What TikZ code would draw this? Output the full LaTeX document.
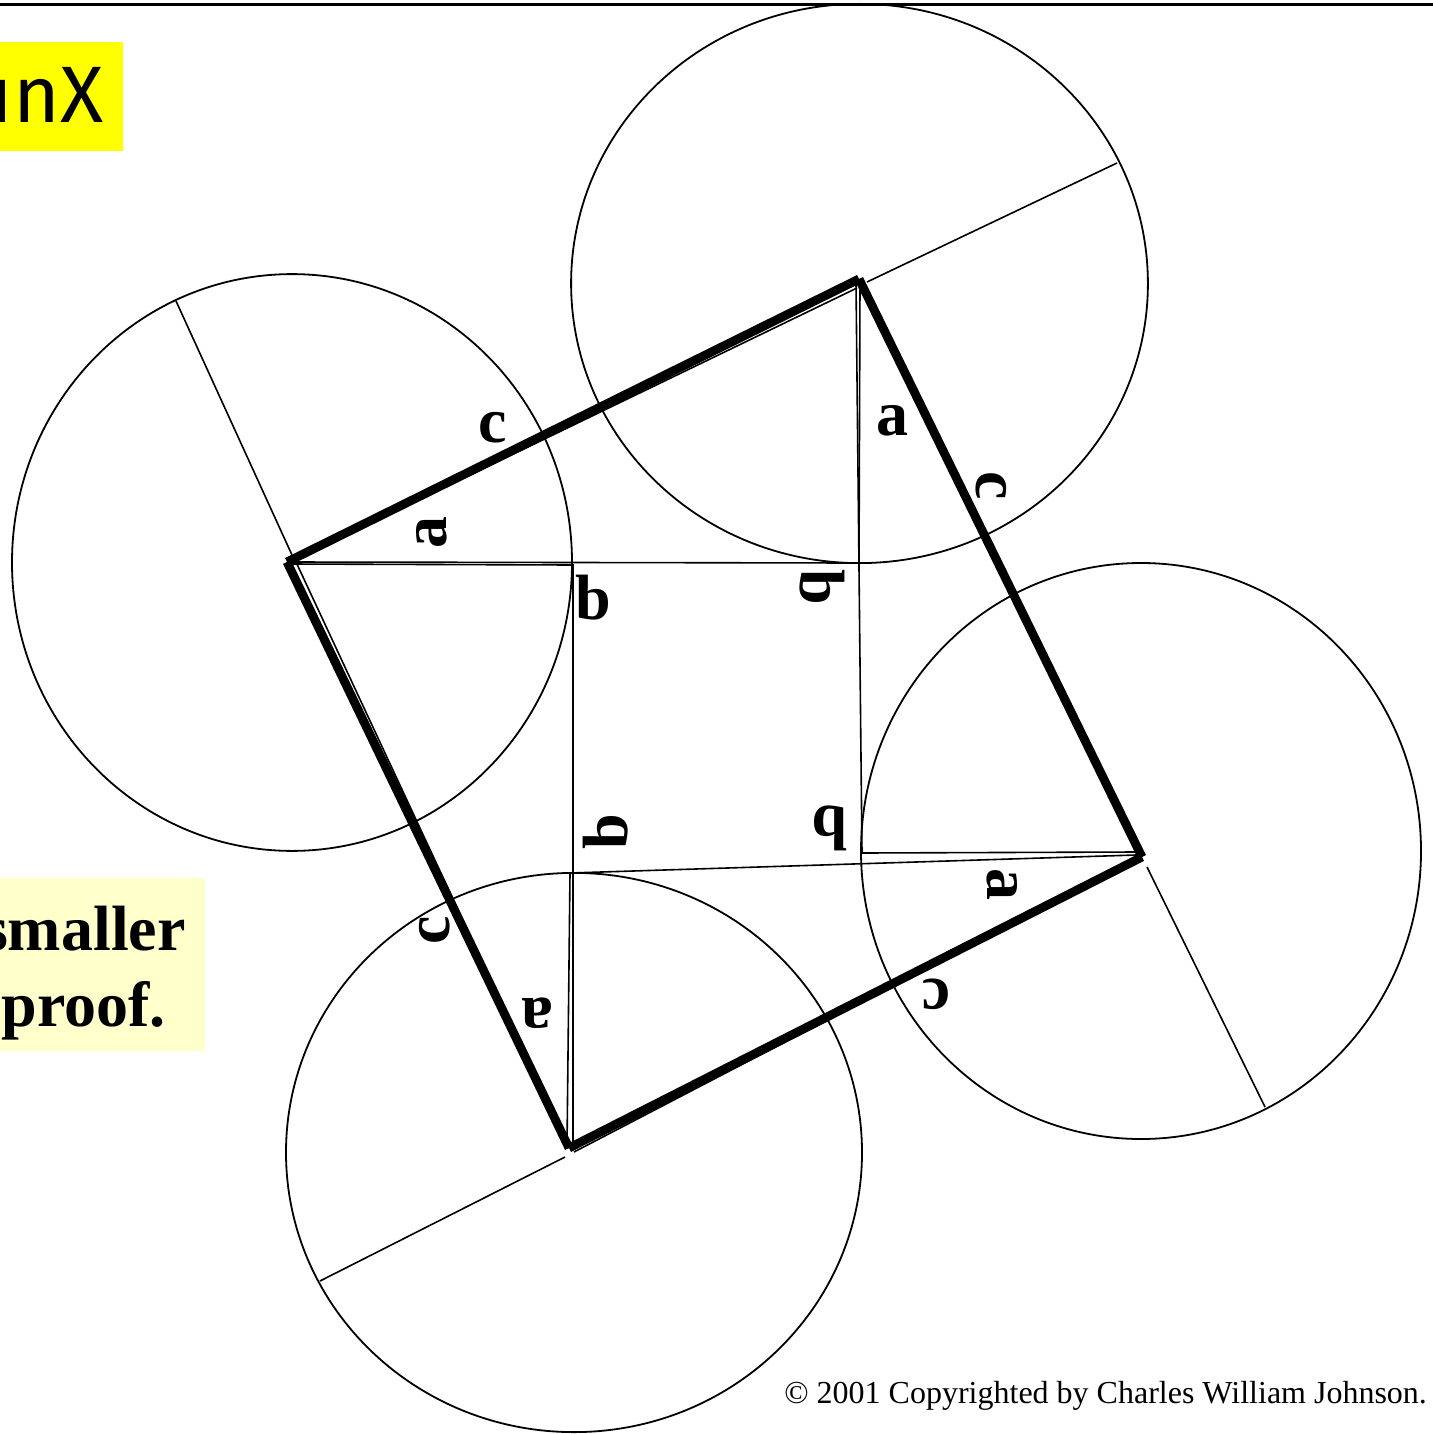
\documentclass[tikz,border=0pt]{standalone}
\usepackage{fontspec}
\setmainfont{Liberation Serif}
\newfontfamily\handfont{Fira Sans}
\definecolor{hiyellow}{HTML}{FFFF00}
\definecolor{paleyellow}{HTML}{FFFFCC}
\begin{document}
\begin{tikzpicture}[x=0.5pt,y=-0.5pt,
  thinline/.style={line width=0.8pt},
  thickside/.style={line width=4.4pt,line cap=butt},
  ring/.style={line width=0.9pt},
  lbl/.style={font=\fontsize{32}{32}\selectfont\bfseries,inner sep=0pt}]
\useasboundingbox (0,0) rectangle (1433,1434);
\clip (0,0) rectangle (1433,1434);
% boxes
\fill[hiyellow] (0,42) rectangle (123,151);
\fill[paleyellow] (0,878) rectangle (205,1051);
\node[font=\handfont\fontsize{40}{40}\selectfont,inner sep=0pt,anchor=base east] (logo) at (104,123) {unX};
\node[font=\fontsize{32}{32}\selectfont\bfseries,inner sep=0pt,anchor=base east] (sm) at (186,950) {smaller};
\node[font=\fontsize{32}{32}\selectfont\bfseries,inner sep=0pt,anchor=base east] (pr) at (166,1026) {proof.};
% top rule
\coordinate (TL) at (0,4.7);
\coordinate (TR) at (1433,4.7);
\draw[line width=1.3pt] (TL) -- (TR);
% circles
\draw[ring] (292,562.5) ellipse [x radius=140pt,y radius=144.2pt];
\draw[ring] (859.5,283.5) ellipse [x radius=144.2pt,y radius=139.8pt];
\draw[ring] (1141,851) ellipse [x radius=140pt,y radius=144pt];
\draw[ring] (574,1152.5) ellipse [x radius=144pt,y radius=139.8pt];
% corner points
\coordinate (P1) at (287,562);
\coordinate (P2) at (859,279);
\coordinate (P3) at (1142,857);
\coordinate (P4) at (569,1148);
\coordinate (R1) at (859,563);
\coordinate (R2) at (862,853);
\coordinate (R3) at (570,873);
\coordinate (R4) at (573,565);
% radius extensions
\coordinate (E1a) at (292,555); \coordinate (E1b) at (176,301);
\coordinate (E2a) at (867,282); \coordinate (E2b) at (1117,163);
\coordinate (E3a) at (1147,867); \coordinate (E3b) at (1265,1107);
\coordinate (E4a) at (565,1157); \coordinate (E4b) at (320,1281);
\draw[thinline] (E1a) -- (E1b);
\draw[thinline] (E2a) -- (E2b);
\draw[thinline] (E3a) -- (E3b);
\draw[thinline] (E4a) -- (E4b);
% triangle 1
\coordinate (A1) at (290,562); \coordinate (A2) at (860,283); \coordinate (A3) at (857,288);
\draw[thinline] (A1) -- (R1) -- (A2);
\draw[thinline] (A1) -- (A3);
% triangle 2
\coordinate (B1) at (856,283); \coordinate (B2) at (1136,852);
\draw[thinline] (B1) -- (R2) -- (B2);
\draw[thinline] (P2) -- (P3);
% triangle 3
\coordinate (C1) at (1136,855); \coordinate (C2) at (567,1146);
\coordinate (C3) at (1140,857); \coordinate (C4) at (574,1152);
\draw[thinline] (C1) -- (R3) -- (C2);
\draw[thinline] (C3) -- (C4);
% triangle 4
\coordinate (D1) at (573,1146); \coordinate (D2) at (290,564);
\coordinate (D3) at (569,1148); \coordinate (D4) at (296,562);
\draw[thinline] (D1) -- (R4) -- (D2);
\draw[thinline] (D3) -- (D4);
% thick square
\draw[thickside] (P1) -- (P2);
\draw[thickside] (P2) -- (P3);
\draw[thickside] (P3) -- (P4);
\draw[thickside] (P4) -- (P1);
% labels
\node[lbl] (c1) at (493,428) {c};
\node[lbl,rotate=90] (a1) at (432,532) {a};
\node[lbl] (b1) at (593,598) {b};
\node[lbl] (a2) at (892,421) {a};
\node[lbl,rotate=-90] (c2) at (991,486) {c};
\node[lbl,rotate=-90] (b2) at (822,587) {b};
\node[lbl,rotate=180] (b3) at (830,828) {b};
\node[lbl,rotate=90] (b4) at (606,832) {b};
\node[lbl,rotate=-90] (a3) at (1002,884) {a};
\node[lbl,rotate=180] (c3) at (936,994) {c};
\node[lbl,rotate=90] (c4) at (435,930) {c};
\node[lbl,rotate=180] (a4) at (537,1013) {a};
% copyright
\node[font=\fontsize{16}{16}\selectfont,inner sep=0pt,anchor=base west] (copy) at (784,1403) {© 2001 Copyrighted by Charles William Johnson.};
\end{tikzpicture}
\end{document}
